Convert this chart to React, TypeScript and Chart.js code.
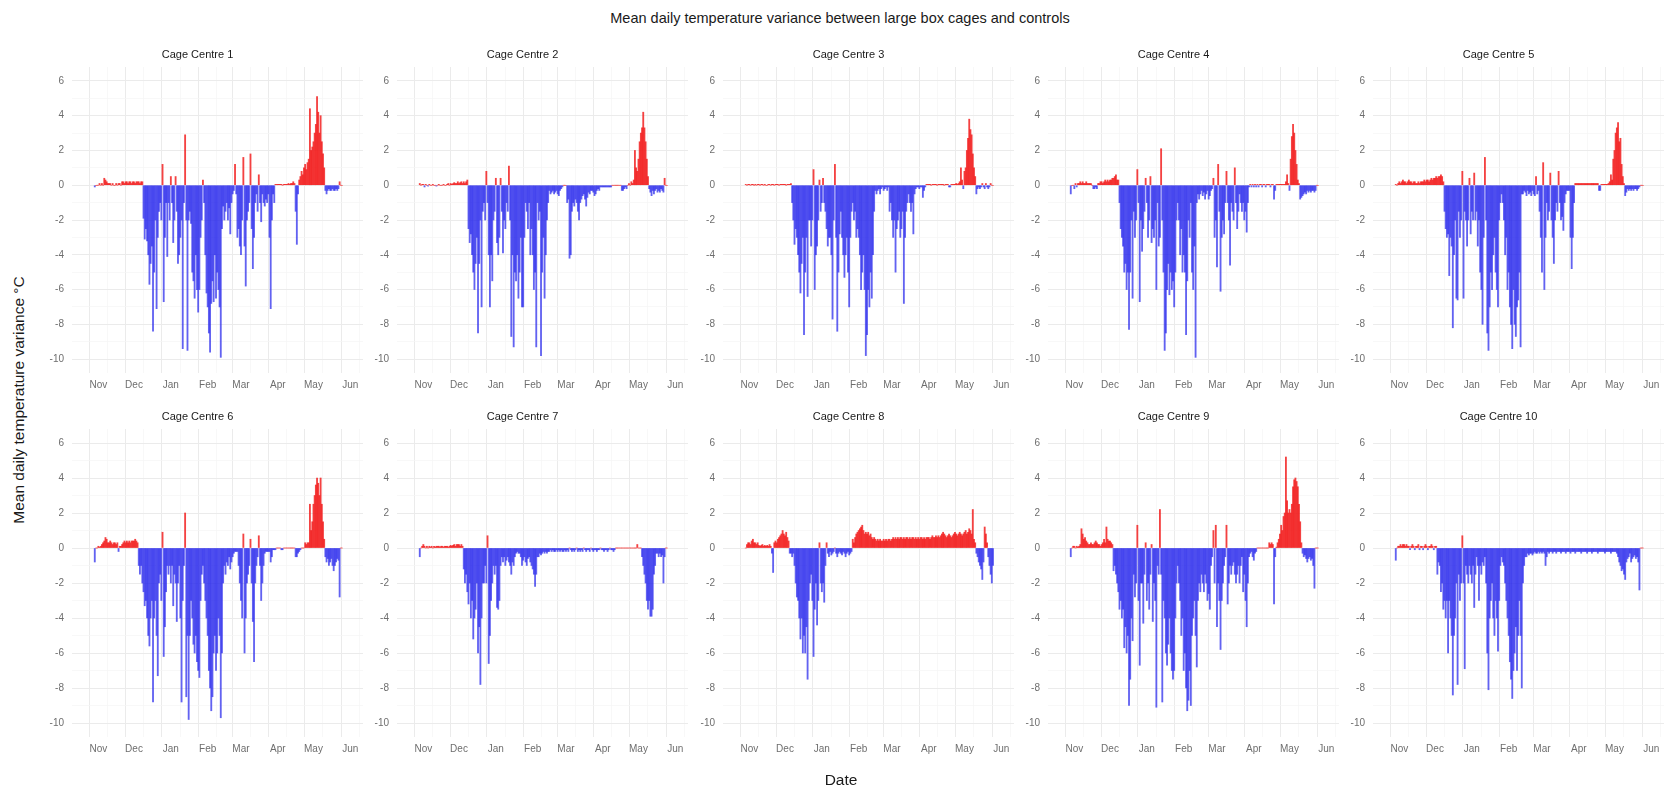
import React, { useEffect, useRef } from 'react';
import { Chart, registerables } from 'chart.js';

Chart.register(...registerables);

// ---------- axis / tick definitions ----------
const MONTH_LABELS = ['Nov', 'Dec', 'Jan', 'Feb', 'Mar', 'Apr', 'May', 'Jun'];
// day index (0 = 1 Nov) of each month label
const MONTH_TICK_DAYS = [0, 30, 61, 92, 120, 151, 181, 212];
// day index of the first value in each monthly block: Oct 29, Nov 1, Dec 1, Jan 1, Feb 1, Mar 1, Apr 1, May 1
const BLOCK_START_DAYS = [-3, 0, 30, 61, 92, 120, 151, 181];
const Y_TICKS = [-10, -8, -6, -4, -2, 0, 2, 4, 6];
const X_MIN = -14;
const X_MAX = 214.5;
const Y_MIN = -10.8;
const Y_MAX = 6.8;

const CENTRE_NAMES = [
  'Cage Centre 1', 'Cage Centre 2', 'Cage Centre 3', 'Cage Centre 4', 'Cage Centre 5',
  'Cage Centre 6', 'Cage Centre 7', 'Cage Centre 8', 'Cage Centre 9', 'Cage Centre 10',
];

// ---------- data: mean daily temperature variance (°C), blocks = Oct(29-31), Nov, Dec, Jan, Feb, Mar, Apr, May ----------
const centre1 = [
  [-0.1, 0, 0],
  [0, 0.1, 0, 0.1, 0, 0.4, 0.3, 0.2, 0.1, 0.1, 0.1, 0, 0.1, 0, 0, 0.1, 0, 0.1, 0.1, 0, 0.2, 0.2, 0.1, 0.2, 0.2, 0.1, 0.2, 0.2, 0.1, 0.2],
  [0.2, 0.1, 0.2, 0.2, 0.2, 0.1, 0.2, 0.2, -1.9, -3.1, -2.5, -3.2, -4, -5.7, -4.5, -3.5, -8.4, -5, -2, -7.1, -3, -1.5, -1, -2, 1.2, -6.7, -3, -1, -4.1, -1, -2],
  [0.5, -1, -3.3, -2, 0.5, -1.5, -4.5, -4, -3, -2, -9.4, -1, 2.9, -2, -9.5, -2, -1.5, -2.2, -5, -5.5, -6.5, -4, -6, -7.3, -6, -3, -2, 0.3, -1, -4, -6.2],
  [-7, -8.5, -9.6, -6.8, -5.5, -6.7, -4, -6.5, -5, -6, -7, -9.9, -2.5, -1.2, -2, -1.5, -1, -2, -1.3, -2.8, -1, -0.5, -0.3, 1.2, -0.5, -3, -2.5, -3.5],
  [-4, -2, 1.6, -3.5, -5.8, -2, -1.5, -1, 1.8, -2.5, -4.8, -3, -1, -0.5, -1.5, 0.6, -1, -2.1, -0.5, -1, -1.2, -0.8, -1, -0.5, -3, -7.1, -2, -0.5, -1, 0.05, 0.05],
  [0.05, 0.05, 0.05, 0.05, 0, 0.05, 0.05, 0.05, 0.05, 0.1, 0.05, 0.1, 0.1, 0.2, 0.1, -1.5, -3.4, -0.5, 0.3, 0.5, 0.8, 0.6, 1, 1.2, 0.9, 1.3, 1.5, 4.4, 2, 2.2],
  [2.5, 3, 3.5, 5.1, 4.2, 3, 4, 2.5, 1.8, 1, -0.3, -0.5, -0.3, -0.2, -0.3, -0.3, -0.2, -0.3, -0.3, -0.2, -0.3, -0.2, 0.2, 0, 0],
];

const centre2 = [
  [0.1, 0, 0.05],
  [0.05, -0.1, 0.05, 0, -0.05, 0.05, 0, 0, 0.05, 0, 0, -0.05, 0, 0.05, 0, 0, 0, 0.05, 0, 0, 0.05, 0.1, 0, 0.1, 0.05, 0.1, 0.15, 0.1, 0.1, 0.2],
  [0.1, 0.15, 0.2, 0.1, 0.2, 0.1, 0.2, 0.3, -2.5, -3.3, -2.8, -4, -5, -6, -4.5, -3, -8.5, -4.5, -2, -7, -1.5, -1, -2, 0.8, -1, -4, -7, -4, -5.5, -2, -1.5],
  [0.4, -3.3, -4, -3, 0.4, -1.5, -3.9, -2, -2.5, -1, -1.5, 1.1, -2, -8.7, -4, -9.3, -5, -5.5, -4, -6.5, -5, -3, -7, -7, -3, -1, -1.5, -2.5, -1, -4, -2.5],
  [-4, -6, -5, -9.3, -1, -2, -1.5, -9.8, -5, -3, -6.5, -4, -2, -1, -0.3, -0.5, -0.4, -0.3, -0.5, -0.4, -0.3, -0.5, -0.6, -0.3, -0.2, -0.1, 0, 0],
  [0, -1, -0.8, -4.2, -4, -1.5, -1, -1.2, -0.8, -1, -1.5, -2, -1, -0.8, -0.6, -0.5, -0.8, -1.2, -0.7, -0.4, -0.5, -0.3, -0.3, -0.4, -0.6, -0.5, -0.3, -0.2, -0.3, -0.1, -0.1],
  [-0.1, -0.1, -0.1, -0.1, -0.1, -0.1, -0.1, -0.1, 0, 0, 0, 0, 0, 0, 0, 0, -0.3, -0.3, -0.2, -0.1, -0.2, 0, 0.1, 0, 0.2, 0.1, 0.3, 2, 1, 0.8],
  [1.5, 2.5, 3, 3.3, 4.2, 3.3, 2.5, 1.5, 0.5, -0.2, -0.4, -0.6, -0.3, -0.5, -0.3, -0.2, -0.4, -0.3, -0.4, -0.2, -0.3, -0.4, 0.4, 0, 0],
];

const centre3 = [
  [0.05, 0, 0.05],
  [0.05, 0, 0.05, 0.05, 0, 0.05, 0, 0.05, 0.05, 0, 0.05, 0.05, 0, 0.05, 0, 0, 0.05, 0.05, 0, 0.05, 0.05, 0, 0.05, 0.05, 0.05, 0, 0.05, 0.05, 0.05, 0.05],
  [0.05, 0, 0.05, 0.05, 0.05, 0.1, -1, -2, -3.4, -2.5, -3, -4, -5, -6.2, -4.5, -3, -8.6, -5, -3, -6.4, -2, -2, -3.5, -2, 0.9, -6, -4, -3.5, -2, 0.3, -1.5],
  [-1, 0.4, -1, -1.5, -2.5, -3.5, -3, -3, -4, -7.7, -2, 1.2, -3, -8.4, -5, -2.8, -1.5, -3, -4, -5.3, -4, -3, -5, -7, -3, -1.5, -1, -2, -1.5, -3, -2.5],
  [-3, -4, -6, -5, -4, -6, -9.8, -8.6, -6, -7, -5, -6.5, -4, -1.5, -0.3, -0.5, -0.3, -0.2, -0.5, -0.2, -0.1, -0.3, -0.2, -0.1, -0.3, -0.1, -1.5, -1],
  [-2, -3, -2, -5, -2.5, -2, -1.5, -3, -2.5, -1.5, -6.8, -3, -1.5, -1, -0.5, -1, -1.5, -1, -2.8, -0.5, -0.2, -0.1, -0.1, -0.2, -0.1, -0.1, -0.7, -0.3, -0.1, 0.05, 0.05],
  [0.05, 0.05, 0, 0.05, 0.05, 0.05, 0.05, 0, 0.05, 0.05, 0.05, 0.05, 0.05, 0, 0.05, 0.05, 0.05, -0.1, -0.1, 0.05, 0.05, 0.05, 0.05, 0.1, 0.05, 0.1, 0.2, 1, 0.3, -0.2],
  [0.8, 1, 2, 2.7, 3.8, 3.2, 2.9, 1.8, 1, 0.5, -0.5, -0.2, -0.1, -0.2, -0.1, 0.1, -0.1, -0.2, 0.1, -0.1, -0.2, -0.1, 0.1, 0, 0],
];

const centre4 = [
  [-0.5, 0, 0],
  [-0.2, 0.1, -0.1, 0.1, 0.1, 0.2, 0.1, 0.2, 0.1, 0.1, 0.2, 0.1, 0.1, 0.1, 0.1, 0, -0.2, -0.2, -0.1, -0.2, 0.1, 0.1, 0.2, 0.2, 0.1, 0.2, 0.3, 0.2, 0.3, 0.2],
  [0.3, 0.3, 0.4, 0.4, 0.5, 0.6, 0.3, 0.3, -1, -2.5, -3, -3.5, -5, -4.5, -6, -5, -8.3, -5, -2, -6.5, -1.5, -3, -2, 0.9, -1, -6.7, -2, -3.8, -2.5, -1.5, 0.4],
  [-1, -3, -2, 0.5, -3.3, -2.5, -3, -2, -6, -1, -3.5, -3, 2.1, -2, -5, -9.5, -8.5, -6, -4.5, -6.3, -5, -6, -5.5, -7, -5, -2, -1, -2, -4, -2.5, -5],
  [-4, -5, -8.6, -5.5, -2, -3, -1, -5, -6, -3.5, -9.9, -1, -0.5, -0.8, -0.5, -0.3, -0.6, -0.4, -0.8, -0.5, -0.3, -0.8, -0.6, -0.3, -0.2, 0.4, -3, -2],
  [-4.7, 1.2, -1.5, -6.1, -3, -2, -2.8, -1, 0.8, -1, -2, -4.6, -1, -1.5, -2, 1, -1, -2.5, -1.5, -0.5, -1, -1.5, -1, -2, -1.5, -2.7, -1, -0.1, 0.05, -0.1, 0.05],
  [-0.1, 0.05, -0.1, 0.05, -0.1, 0.05, 0.05, -0.1, 0.05, 0.05, -0.1, 0.05, 0.05, 0.05, -0.1, 0.05, 0.05, -0.8, -0.3, 0.05, 0.05, 0.05, 0.05, 0.05, 0.05, 0.05, 0.05, 0.2, 0.6, 0.1],
  [-0.3, 1.5, 2.8, 3.5, 3, 2, 1.2, 0.3, 0.1, -0.8, -0.7, -0.6, -0.5, -0.4, -0.5, -0.3, -0.4, -0.3, -0.4, -0.3, -0.3, -0.4, -0.3, 0, 0],
];

const centre5 = [
  [0.05, 0, 0.1],
  [0.2, 0.1, 0.2, 0.3, 0.2, 0.2, 0.1, 0.2, 0.3, 0.2, 0.2, 0.1, 0.2, 0.2, 0.1, 0.1, 0.2, 0.1, 0.2, 0.2, 0.2, 0.3, 0.2, 0.3, 0.3, 0.2, 0.3, 0.4, 0.3, 0.4],
  [0.4, 0.5, 0.4, 0.5, 0.5, 0.6, 0.5, 0.2, -1.5, -2.5, -3, -2.8, -5.2, -3, -3.5, -8.2, -4, -2, -6.5, -6.6, -1.5, -3, -2, 0.8, -6.5, -1.5, -2, -3.5, -2, 0.4, -2.8],
  [-1.5, -2, 0.7, -2, -1.5, -3.5, -2, -5, -6, -8, -3, 1.6, -2, -8.5, -9.5, -7, -5, -6, -4, -3, -5, -6, -7, -2, -1, -0.5, -1, -2, -4, -3, -6],
  [-5, -7, -8, -9.4, -6, -8, -8.7, -7, -6.6, -5, -9.3, -0.5, -0.5, -0.3, -0.4, -0.6, -0.3, -0.5, -0.4, -0.6, -0.3, -0.5, -0.6, 0.5, -0.5, -0.3, -1.5, -3],
  [-5, 1.3, -6, -3, -1, -2, -1.5, 0.7, -2, -3, -4.5, -2, -1, -1.5, 0.8, -1, -2, -1.8, -2.6, -1, -0.5, -0.3, -0.3, -0.3, -3, -4.8, -3, -1, 0.1, 0.1, 0.1],
  [0.1, 0.1, 0.1, 0.1, 0.1, 0.1, 0.1, 0.1, 0.1, 0.1, 0.1, 0.1, 0.1, 0.1, 0.1, 0.1, 0.1, -0.3, -0.3, 0.05, 0.05, 0.05, 0.05, 0.05, 0.05, 0.1, 0.2, 0.6, 0.3, 1.5],
  [2, 3, 3.3, 3.6, 2.5, 2.7, 1.2, 0.5, 0.1, -0.6, -0.4, -0.2, -0.3, -0.2, -0.3, -0.2, -0.3, -0.2, -0.2, -0.3, -0.2, -0.1, 0, 0, 0],
];

const centre6 = [
  [-0.8, 0, 0],
  [0.1, 0.05, 0.1, 0.2, 0.3, 0.4, 0.6, 0.5, 0.3, 0.3, 0.4, 0.3, 0.2, 0.3, 0.3, 0.2, 0.3, -0.2, 0.1, 0.1, 0.2, 0.3, 0.4, 0.3, 0.4, 0.3, 0.4, 0.3, 0.4, 0.4],
  [0.4, 0.5, 0.4, 0.3, -1, -1.5, -1, -2, -2.5, -3.3, -3, -4, -5, -5.6, -4, -3, -8.8, -4, -3, -5, -7.3, -2, -1.5, -3, 0.9, -6.2, -4.5, -2.5, -1, -1.5, -1],
  [-2, -1, -3.3, -1.5, -2, -4.2, -2, -1, -4, -8.8, -3, -1, 2, -8.5, -5, -9.8, -5, -3, -4, -5.5, -6, -5, -6.5, -7, -7.4, -3, -1.5, -1, -2, -3, -4],
  [-5, -7, -8, -9.3, -8.5, -6, -5, -7, -6, -4, -5, -9.7, -6, -2, -1, -1.5, -0.8, -1, -0.5, -1.2, -0.8, -0.5, -0.3, -0.2, -0.2, -0.2, -1, -2],
  [-3, -4, 0.8, -6, -4, -2, -1.5, -1, 0.5, -2, -4.2, -6.5, -2, -1, -0.5, 0.7, -1, -3, -2, -1, -0.3, -0.2, -0.2, -0.2, -0.2, -0.8, -0.5, -0.1, -0.1, -0.1, 0],
  [0, 0, 0, -0.1, -0.1, 0, 0, 0, 0, 0, 0, 0, 0, 0, 0, -0.5, -0.5, -0.3, -0.2, -0.1, 0, 0, 0, 0.3, 0.2, 0.3, 0.3, 2.5, 1, 1.5],
  [2.5, 3, 3.6, 4, 3.7, 3, 4, 2.5, 1.5, 0.5, -0.5, -0.8, -0.6, -1, -0.8, -0.6, -1, -1.3, -1, -0.8, -0.6, -0.7, -2.8, 0, 0],
];

const centre7 = [
  [-0.5, 0, 0.1],
  [0.2, 0.1, 0, 0.1, 0, 0.1, 0.05, 0.1, 0, 0.1, 0.05, 0.1, 0.1, 0.1, 0.05, 0.1, 0.1, 0.05, 0.1, 0.1, 0.1, 0.05, 0.1, 0.15, 0.1, 0.15, 0.2, 0.1, 0.2, 0.2],
  [0.2, 0.1, 0.2, 0.1, -1.2, -2, -1.5, -2.5, -3.2, -2, -4, -3, -5.2, -4, -3.5, -2, -6, -4.5, -7.8, -4, -2, -2, -1, -2, 0.7, -6.6, -5, -3, -2, -1, -1.5],
  [-1, -3.4, -3.5, -3, -1, -0.5, -0.8, -0.5, -1, -0.7, -0.5, -0.8, -1, -1.5, -0.8, -1, -0.5, -0.3, -0.2, -0.3, -0.3, -0.5, -1, -0.7, -0.5, -0.8, -1, -0.6, -0.5, -0.8, -1],
  [-1.2, -1.5, -2.2, -1.5, -0.5, -0.5, -0.3, -0.4, -0.3, -0.2, -0.3, -0.2, -0.3, -0.2, -0.2, -0.1, -0.2, -0.1, -0.2, -0.2, -0.1, -0.2, -0.1, -0.2, -0.1, -0.2, -0.2, -0.1],
  [-0.2, -0.1, -0.2, 0, -0.1, -0.2, -0.1, -0.2, -0.1, 0, -0.2, -0.1, -0.2, -0.1, -0.2, 0, -0.1, -0.2, -0.1, -0.1, -0.2, 0, -0.1, -0.2, -0.1, -0.1, -0.2, -0.1, -0.1, 0, -0.1],
  [-0.1, -0.2, -0.1, -0.1, -0.2, -0.1, 0, -0.1, -0.1, -0.2, -0.1, 0, 0, 0, 0, 0, 0, 0, 0, 0, 0, 0, 0, 0, 0, 0, 0, 0, 0, 0.2],
  [0, 0, 0, -0.5, -1, -1.5, -2, -3, -3.5, -3, -3.9, -3.9, -3.5, -1.5, -1, -0.3, -0.3, -0.5, -0.3, -0.5, -0.4, -2, -0.5, 0, 0],
];

const centre8 = [
  [0, 0.2, 0.3],
  [0.3, 0.2, 0.4, 0.5, 0.3, 0.3, 0.2, 0.3, 0.15, 0.1, 0.15, 0.2, 0.1, 0.15, 0.1, 0.15, 0.1, 0.2, 0.1, -0.3, -1.4, 0.3, 0.4, 0.3, 0.5, 0.6, 0.7, 0.8, 1, 0.8],
  [0.7, 0.9, 0.6, 0.4, -0.3, -0.3, -0.5, -0.3, -1, -2, -2.8, -3, -4, -5.2, -4, -6, -5, -6, -4.5, -7.5, -3, -2, -1.5, -3, -6.2, -3.5, -2, -4.4, -3, 0.3, -2],
  [-2.5, -2, -3.1, -1, 0.3, -0.3, -0.5, -0.2, -0.4, -0.3, -0.2, 0, -0.3, -0.5, -0.3, -0.2, -0.3, -0.4, -0.2, -0.3, -0.5, -0.3, -0.2, -0.4, -0.3, -0.2, 0.5, 0.3, 0.6, 0.8, 0.9],
  [1, 1.1, 1.2, 1.3, 1, 0.8, 0.9, 0.8, 0.9, 0.7, 0.8, 0.6, 0.5, 0.6, 0.5, 0.4, 0.5, 0.4, 0.5, 0.4, 0.4, 0.5, 0.4, 0.5, 0.4, 0.5, 0.5, 0.4],
  [0.5, 0.6, 0.5, 0.6, 0.5, 0.6, 0.5, 0.6, 0.6, 0.5, 0.6, 0.5, 0.6, 0.6, 0.5, 0.6, 0.5, 0.6, 0.6, 0.5, 0.6, 0.5, 0.6, 0.5, 0.6, 0.6, 0.5, 0.6, 0.5, 0.6, 0.6],
  [0.6, 0.5, 0.6, 0.7, 0.6, 0.6, 0.7, 0.6, 0.7, 0.6, 0.7, 0.8, 0.9, 0.8, 0.7, 0.6, 0.7, 0.8, 0.7, 0.6, 0.7, 0.8, 0.9, 0.8, 0.7, 0.8, 0.9, 0.8, 0.7, 0.8],
  [0.9, 1, 0.8, 0.9, 1.1, 1, 0.8, 2.2, 0.5, 0.3, -0.3, -0.5, -0.8, -1, -1.2, -1.8, -0.8, 1.2, 0.8, 0.3, -0.5, -1, -1.5, -2, -1],
];

const centre9 = [
  [-0.5, 0, 0.1],
  [0.1, 0, 0.1, 0.05, 0.1, 0.2, 1.1, 0.8, 0.5, 0.6, 0.4, 0.3, 0.2, 0.2, 0.3, 0.2, 0.2, 0.3, 0.4, 0.3, 0.2, 0.2, 0.1, 0.2, 0.3, 0.5, 0.3, 1.2, 0.5, 0.4],
  [0.4, 0.3, 0.2, -1.3, -1, -1.5, -2, -2.5, -3.5, -3, -4, -3.5, -5.7, -4.5, -6, -5, -9, -7.5, -4, -5.3, -1.5, -2.8, -2, 1.3, -3, -6.7, -2, -2, -4.3, -1.5, 0.3],
  [-3, -2, -3.5, -1.5, 0.2, -4.2, -2, -3, -9.1, -1, -1.5, 2.2, -1.5, -8.8, -3, -4, -6, -6.7, -5.5, -4, -6, -7, -7.5, -7, -4, -2, -1, -2, -3, -5, -4],
  [-7, -6, -8, -9.3, -8.7, -7, -9, -5, -4, -3, -5, -6.8, -3, -2, -2.5, -1.5, -2, -2.5, -1.5, -2, -3, -2.6, -3.5, -1, -0.5, 1, -2, 1.3],
  [-4.5, -2, -3, -5.8, -3, -2, -1, -0.5, 1.3, -3.2, -2, -1, -1.5, -1, -0.8, -1.5, -2, -1.5, -1, -2, -1, -0.5, -2.5, -1.5, -3, -4.5, -2, -0.5, -0.3, -0.2, -0.5],
  [-0.7, -0.3, -0.2, 0, 0, 0, 0, 0, 0, 0, 0, 0, 0, 0.3, 0.2, 0.3, 0.2, -3.2, -0.5, 0.05, 0.3, 0.5, 0.8, 1.3, 1, 1.8, 2, 5.2, 2.7, 2],
  [2.2, 2, 2.5, 3.5, 3.9, 4, 3.8, 3.5, 2.5, 1.5, 0.3, -0.3, -0.5, -0.4, -0.6, -0.8, -0.6, -0.5, -0.7, -0.6, -1, -2.3, 0, 0, 0],
];

const centre10 = [
  [-0.7, 0, 0.1],
  [0.1, 0.2, 0.1, 0.2, 0.2, 0.1, 0.2, 0.1, 0.1, -0.1, 0.1, 0.2, 0.1, -0.1, 0.1, 0.1, 0.2, -0.1, 0.1, 0.1, -0.1, 0.1, 0.2, 0.1, -0.1, 0.1, 0.1, 0.2, 0.1, -0.1],
  [0.1, 0.1, -1.5, -0.8, -1, -2.5, -2, -3.5, -3, -4, -3, -6, -3, -4, -5, -8.4, -5, -4, -2, -7.8, -1.5, -3, -2, 0.7, -2, -6.9, -1, -1.5, -2, -1, -1.5],
  [-2, -1, -3.4, -1.5, -0.5, -1, -3, -1, -1.5, -0.8, -1, -0.5, -2, -6, -8.1, -4, -3, -2, -4, -5, -3, -4, -5.9, -3, -1, -0.5, -0.8, -1, -2, -3, -4],
  [-5, -6.5, -7.5, -8.6, -7, -6, -4.5, -7, -5, -3, -5, -8, -2, -1, -0.5, -0.5, -0.3, -0.4, -0.3, -0.3, -0.4, -0.3, -0.2, -0.3, -0.3, -0.2, -0.3, -0.2],
  [-0.3, -0.2, -0.3, -1, -0.5, -0.2, -0.3, -0.2, -0.2, -0.3, -0.2, -0.2, -0.3, -0.2, -0.2, -0.2, -0.3, -0.2, -0.2, -0.2, -0.3, -0.2, -0.2, -0.2, -0.3, -0.2, -0.2, -0.2, -0.3, -0.2, -0.2],
  [-0.2, -0.2, -0.3, -0.2, -0.2, -0.2, -0.2, -0.3, -0.2, -0.2, -0.2, -0.3, -0.2, -0.2, -0.2, -0.2, -0.3, -0.2, -0.2, -0.2, -0.2, -0.2, -0.3, -0.2, -0.2, -0.2, -0.2, -0.3, -0.2, -0.2],
  [-0.2, -0.2, -0.3, -0.5, -0.8, -1, -1.3, -1.2, -1.5, -1.8, -0.8, -0.6, -0.5, -0.3, -0.8, -0.6, -0.5, -0.4, -0.6, -0.5, -0.8, -2.4, 0, 0, 0],
];

const CENTRES = [centre1, centre2, centre3, centre4, centre5, centre6, centre7, centre8, centre9, centre10];

// ---------- styling / layout ----------
const FONT = '"Liberation Sans", Arial, Helvetica, sans-serif';
const BLUE = 'rgba(38, 38, 236, 0.72)';
const RED = 'rgba(242, 24, 24, 0.82)';
const GRID_MAJOR = '#ebebeb';
const GRID_MINOR = '#f5f5f5';
const TICK_COLOR = '#6e6e6e';

const PLOT_LEFT0 = 72;
const COL_STEP = 325.25;
const PLOT_W = 291;
const ROWS = [
  { top: 67, h: 306 },
  { top: 429, h: 308 },
];
const Y_AXIS_W = 40;
const TITLE_H = 25;
const X_AXIS_H = 22;
const RIGHT_PAD = 12;

function toPoints(blocks: number[][]) {
  const pts: { x: number; y: number }[] = [];
  blocks.forEach((arr, b) => {
    arr.forEach((v, j) => pts.push({ x: BLOCK_START_DAYS[b] + j, y: v }));
  });
  return pts;
}

const X_MINOR = MONTH_TICK_DAYS.slice(0, -1).map((d, i) => (d + MONTH_TICK_DAYS[i + 1]) / 2);
const X_ALL_TICKS = [...MONTH_TICK_DAYS, ...X_MINOR].sort((a, b) => a - b);
const Y_ALL_TICKS: number[] = [];
for (let v = -10; v <= 6; v += 1) Y_ALL_TICKS.push(v);

function Panel({ idx }: { idx: number }) {
  const ref = useRef<HTMLCanvasElement | null>(null);
  const col = idx % 5;
  const row = Math.floor(idx / 5);
  const plotLeft = PLOT_LEFT0 + COL_STEP * col;
  const { top, h } = ROWS[row];
  const left = Math.round(plotLeft - Y_AXIS_W);
  const cTop = top - TITLE_H;
  const width = Y_AXIS_W + PLOT_W + RIGHT_PAD;
  const height = TITLE_H + h + X_AXIS_H;

  useEffect(() => {
    if (!ref.current) return;
    const chart = new Chart(ref.current, {
      type: 'bar',
      data: {
        datasets: [
          {
            data: toPoints(CENTRES[idx]),
            backgroundColor: (ctx: any) => (ctx.raw && ctx.raw.y >= 0 ? RED : BLUE),
            borderWidth: 0,
            barPercentage: 1,
            categoryPercentage: 1,
          },
        ],
      },
      options: {
        animation: false,
        responsive: false,
        maintainAspectRatio: false,
        devicePixelRatio: 1,
        layout: { padding: { left: 0, right: RIGHT_PAD, top: 0, bottom: 0 } },
        plugins: {
          legend: { display: false },
          tooltip: { enabled: false },
          title: {
            display: true,
            text: CENTRE_NAMES[idx],
            color: '#1a1a1a',
            font: { family: FONT, size: 11, weight: 'normal', lineHeight: 1 },
            padding: { top: 7, bottom: 7 },
          },
        },
        scales: {
          x: {
            type: 'linear',
            min: X_MIN,
            max: X_MAX,
            afterBuildTicks: (s: any) => {
              s.ticks = X_ALL_TICKS.map((v) => ({ value: v }));
            },
            afterFit: (s: any) => {
              s.height = X_AXIS_H;
            },
            ticks: {
              autoSkip: false,
              maxRotation: 0,
              minRotation: 0,
              padding: 6,
              color: TICK_COLOR,
              font: { family: FONT, size: 10 },
              callback: (v: any) => {
                const i = MONTH_TICK_DAYS.indexOf(Number(v));
                return i >= 0 ? MONTH_LABELS[i] : '';
              },
            },
            grid: {
              drawTicks: false,
              color: (ctx: any) => (ctx.tick && MONTH_TICK_DAYS.includes(ctx.tick.value) ? GRID_MAJOR : GRID_MINOR),
              lineWidth: (ctx: any) => (ctx.tick && MONTH_TICK_DAYS.includes(ctx.tick.value) ? 1 : 0.7),
            },
            border: { display: false },
          },
          y: {
            type: 'linear',
            min: Y_MIN,
            max: Y_MAX,
            afterBuildTicks: (s: any) => {
              s.ticks = Y_ALL_TICKS.map((v) => ({ value: v }));
            },
            afterFit: (s: any) => {
              s.width = Y_AXIS_W;
            },
            ticks: {
              autoSkip: false,
              padding: 8,
              color: TICK_COLOR,
              font: { family: FONT, size: 10 },
              callback: (v: any) => (Y_TICKS.includes(Number(v)) ? String(v) : ''),
            },
            grid: {
              drawTicks: false,
              color: (ctx: any) => (ctx.tick && Y_TICKS.includes(ctx.tick.value) ? GRID_MAJOR : GRID_MINOR),
              lineWidth: (ctx: any) => (ctx.tick && Y_TICKS.includes(ctx.tick.value) ? 1 : 0.7),
            },
            border: { display: false },
          },
        },
      } as any,
    });
    return () => chart.destroy();
  }, [idx]);

  return (
    <canvas
      ref={ref}
      width={width}
      height={height}
      style={{ position: 'absolute', left, top: cTop, width, height }}
    />
  );
}

export default function App() {
  return (
    <div
      style={{
        position: 'absolute',
        left: 0,
        top: 0,
        width: 1677,
        height: 791,
        background: '#ffffff',
        fontFamily: FONT,
        overflow: 'hidden',
      }}
    >
      <div
        style={{
          position: 'absolute',
          left: 0,
          top: 9,
          width: 1680,
          textAlign: 'center',
          fontSize: 14.5,
          lineHeight: '18px',
          color: '#1a1a1a',
          whiteSpace: 'nowrap',
        }}
      >
        Mean daily temperature variance between large box cages and controls
      </div>
      {CENTRE_NAMES.map((_, i) => (
        <Panel key={i} idx={i} />
      ))}
      <div
        style={{
          position: 'absolute',
          left: 791,
          top: 771,
          width: 100,
          textAlign: 'center',
          fontSize: 15.5,
          lineHeight: '18px',
          color: '#1a1a1a',
        }}
      >
        Date
      </div>
      <div
        style={{
          position: 'absolute',
          left: 19,
          top: 400,
          transform: 'translate(-50%, -50%) rotate(-90deg)',
          fontSize: 15.5,
          lineHeight: '18px',
          color: '#1a1a1a',
          whiteSpace: 'nowrap',
        }}
      >
        Mean daily temperature variance °C
      </div>
    </div>
  );
}
